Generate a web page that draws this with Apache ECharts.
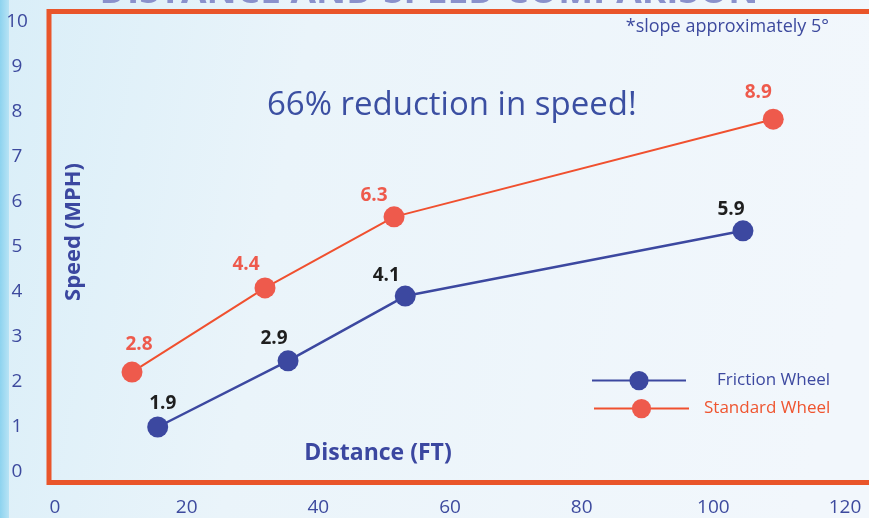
<!DOCTYPE html>
<html>
<head>
<meta charset="utf-8">
<script src="https://cdn.jsdelivr.net/npm/echarts@6/dist/echarts.min.js"></script>
<style>
html,body{margin:0;padding:0;}
#c{width:869px;height:518px;}
</style>
</head>
<body>
<div id="c"></div>
<script>
// Data
var seriesNames = ['Friction Wheel', 'Standard Wheel'];
var frictionX = [15.6, 35.4, 53.2, 104.5];
var frictionY = [1.0, 2.47, 3.91, 5.36];
var frictionLabels = ['1.9', '2.9', '4.1', '5.9'];
var standardX = [11.7, 31.9, 51.5, 109.1];
var standardY = [2.22, 4.09, 5.67, 7.84];
var standardLabels = ['2.8', '4.4', '6.3', '8.9'];
var yTicks = [0, 1, 2, 3, 4, 5, 6, 7, 8, 9, 10];
var xTicks = [0, 20, 40, 60, 80, 100, 120];

// label offsets (style)
var frictionLabelOffset = [[5, -23], [-14, -22], [-19, -20], [-12, -21]];
var standardLabelOffset = [[7, -28], [-19, -23], [-20, -21], [-15, -27]];

var FONT = 'Open Sans';
var BLUE = '#3c48a0';
var RED = '#ee5a4c';
var REDLINE = '#f0502f';

function buildData(xs, ys, labels, offs) {
  return xs.map(function (x, i) {
    return {
      value: [x, ys[i]],
      label: { formatter: labels[i], offset: offs[i] }
    };
  });
}

var chart = echarts.init(document.getElementById('c'), null, { renderer: 'canvas' });
chart.setOption({
  animation: false,
  backgroundColor: {
    type: 'linear', x: 0, y: 0, x2: 1, y2: 0.3,
    colorStops: [
      { offset: 0, color: '#d9eef8' },
      { offset: 0.35, color: '#eaf4fa' },
      { offset: 1, color: '#f2f7fc' }
    ]
  },
  grid: { left: 55, right: 24, top: 22, bottom: 46 },
  xAxis: {
    type: 'value', min: 0, max: 120, interval: 20,
    axisLine: { show: false }, axisTick: { show: false }, splitLine: { show: false },
    axisLabel: {
      margin: 26, color: '#3d4a9e', fontSize: 19, fontFamily: FONT,
      formatter: function (v) { return xTicks.indexOf(v) >= 0 ? String(v) : ''; }
    }
  },
  yAxis: {
    type: 'value', min: 0, max: 10, interval: 1,
    axisLine: { show: false }, axisTick: { show: false }, splitLine: { show: false },
    axisLabel: {
      margin: 38, align: 'center', color: '#3d4a9e', fontSize: 19, fontFamily: FONT,
      formatter: function (v) { return yTicks.indexOf(v) >= 0 ? String(v) : ''; }
    }
  },
  legend: [
    {
      data: [seriesNames[0]], left: 586, top: 366, orient: 'vertical',
      itemWidth: 94, itemHeight: 24,
      textStyle: { color: '#3d49a0', fontSize: 17, fontFamily: FONT, padding: [0, 0, 0, 26] }
    },
    {
      data: [seriesNames[1]], left: 588, top: 394, orient: 'vertical',
      itemWidth: 95, itemHeight: 24,
      textStyle: { color: '#ef5530', fontSize: 17, fontFamily: FONT, padding: [0, 0, 0, 10] }
    }
  ],
  series: [
    {
      name: seriesNames[0], type: 'line', z: 3,
      data: buildData(frictionX, frictionY, frictionLabels, frictionLabelOffset),
      symbol: 'circle', symbolSize: 21,
      lineStyle: { color: BLUE, width: 2.5 },
      itemStyle: { color: BLUE },
      label: { show: true, position: 'inside', color: '#1e1e1e', fontSize: 19, fontWeight: 'bold', fontFamily: FONT }
    },
    {
      name: seriesNames[1], type: 'line', z: 2,
      data: buildData(standardX, standardY, standardLabels, standardLabelOffset),
      symbol: 'circle', symbolSize: 21,
      lineStyle: { color: REDLINE, width: 2 },
      itemStyle: { color: RED },
      label: { show: true, position: 'inside', color: RED, fontSize: 19, fontWeight: 'bold', fontFamily: FONT }
    }
  ],
  graphic: [
    { type: 'rect', silent: true, z: -1, shape: { x: 0, y: 0, width: 9, height: 518 },
      style: { fill: { type: 'linear', x: 0, y: 0, x2: 1, y2: 0, colorStops: [
        { offset: 0, color: '#8dd3ef' }, { offset: 1, color: '#b8e3f5' } ] } } },
    { type: 'text', silent: true, x: 429, y: 11, z: 0,
      style: { text: 'DISTANCE AND SPEED COMPARISON', fill: '#8a91cc',
        font: 'bold 37px "Open Sans"', align: 'center', verticalAlign: 'bottom' } },
    { type: 'rect', silent: true, z: 1, shape: { x: 49, y: 11.5, width: 840, height: 471 },
      style: { fill: null, stroke: '#e9552a', lineWidth: 5 } },
    { type: 'text', silent: true, left: 267, top: 89,
      style: { text: '66% reduction in speed!', fill: '#3b4fa2', font: '33px "Open Sans"' } },
    { type: 'text', silent: true, right: 40, top: 18,
      style: { text: '*slope approximately 5°', fill: '#3d4a9e', font: '18px "Open Sans"' } },
    { type: 'text', silent: true, x: 74, y: 232, rotation: Math.PI / 2,
      style: { text: 'Speed (MPH)', fill: '#3b47a0', font: 'bold 22px "Open Sans"', align: 'center', verticalAlign: 'middle' } },
    { type: 'text', silent: true, x: 378, y: 453,
      style: { text: 'Distance (FT)', fill: '#3b47a0', font: 'bold 23px "Open Sans"', align: 'center', verticalAlign: 'middle' } }
  ]
});
</script>
</body>
</html>
